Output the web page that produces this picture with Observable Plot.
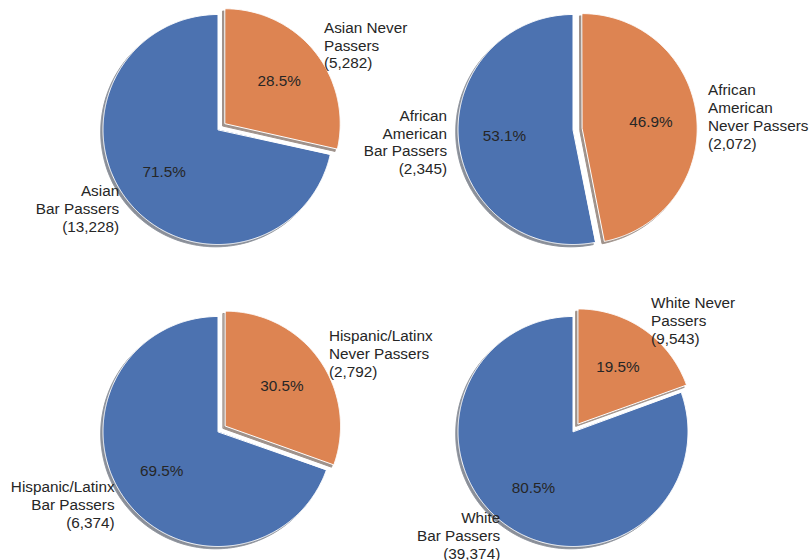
<!DOCTYPE html>
<html><head><meta charset="utf-8">
<script src="https://cdn.jsdelivr.net/npm/d3@7"></script>
<script src="https://cdn.jsdelivr.net/npm/@observablehq/plot@0.6"></script>
<style>html,body{margin:0;padding:0;background:#fff;}</style>
</head><body><div id="chart"></div>
<script>
const groups = ["Asian", "African American", "Hispanic/Latinx", "White"];
const barPassers = [13228, 2345, 6374, 39374];
const neverPassers = [5282, 2072, 2792, 9543];
const passerLabels = ["Asian\nBar Passers", "African\nAmerican\nBar Passers", "Hispanic/Latinx\nBar Passers", "White\nBar Passers"];
const neverLabels = ["Asian Never\nPassers", "African\nAmerican\nNever Passers", "Hispanic/Latinx\nNever Passers", "White Never\nPassers"];
const categories = ["Bar Passers", "Never Passers"];
const colors = ["#4C72B0", "#DD8452"];
const shadowColors = colors.map(c => { const r = d3.rgb(c); return d3.rgb(r.r * 0.3, r.g * 0.3, r.b * 0.3).formatHex(); });

// layout, in pie-radius units
const colStep = 3.087, rowStep = 2.626;
const explode = [0, 0.08];
const shadowOff = 0.02;

const wedges = [];
const pts = [];
groups.forEach((g, i) => {
  const cx = (i % 2) * colStep, cy = -Math.floor(i / 2) * rowStep;
  const vals = [barPassers[i], neverPassers[i]];
  const labels = [passerLabels[i], neverLabels[i]];
  const total = d3.sum(vals);
  let t = 90;
  vals.forEach((v, j) => {
    const frac = v / total;
    const t1 = t, t2 = t + 360 * frac;
    const mid = (t1 + t2) / 2 * Math.PI / 180;
    const ox = cx + explode[j] * Math.cos(mid), oy = cy + explode[j] * Math.sin(mid);
    const id = g + "|" + categories[j];
    const n = Math.max(2, Math.ceil((t2 - t1) / 0.5));
    pts.push({id, cat: categories[j], x: ox, y: oy});
    for (let k = 0; k <= n; k++) {
      const a = (t1 + (t2 - t1) * k / n) * Math.PI / 180;
      pts.push({id, cat: categories[j], x: ox + Math.cos(a), y: oy + Math.sin(a)});
    }
    wedges.push({
      id, cat: categories[j],
      pct: d3.format(".1f")(frac * 100) + "%",
      label: labels[j] + "\n(" + d3.format(",")(v) + ")",
      px: ox + 0.6 * Math.cos(mid), py: oy + 0.6 * Math.sin(mid),
      lx: ox + 1.1 * Math.cos(mid), ly: oy + 1.1 * Math.sin(mid),
      side: Math.cos(mid) > 0 ? "start" : "end"
    });
    t = t2;
  });
});

const R = 115;
const xDomain = [-217.5 / R, (809 - 217.5) / R];
const yDomain = [(129 - 560) / R, 129 / R];
const font = "'Liberation Sans', Arial, sans-serif";
const textColor = "#262626";
const fs = 15.3;

const chart = Plot.plot({
  width: 809, height: 560, margin: 0,
  x: {domain: xDomain, axis: null},
  y: {domain: yDomain, axis: null},
  color: {domain: categories, range: colors},
  style: {fontFamily: font, fontSize: fs + "px", color: textColor, background: "white", overflow: "visible"},
  marks: [
    Plot.line(pts, {filter: d => d.cat === categories[0], x: d => d.x - shadowOff, y: d => d.y - shadowOff, z: "id", curve: "linear-closed", fill: shadowColors[0], stroke: shadowColors[0], strokeWidth: 1, opacity: 0.5}),
    Plot.line(pts, {filter: d => d.cat === categories[1], x: d => d.x - shadowOff, y: d => d.y - shadowOff, z: "id", curve: "linear-closed", fill: shadowColors[1], stroke: shadowColors[1], strokeWidth: 1, opacity: 0.5}),
    Plot.line(pts, {x: "x", y: "y", z: "id", curve: "linear-closed", fill: "cat", stroke: "white", strokeWidth: 1}),
    Plot.text(wedges, {x: "px", y: "py", text: "pct", fill: textColor, fontSize: fs}),
    Plot.text(wedges, {filter: d => d.side === "start", x: "lx", y: "ly", text: "label", textAnchor: "start", lineAnchor: "middle", lineHeight: 1.17, fill: textColor, fontSize: fs}),
    Plot.text(wedges, {filter: d => d.side === "end", x: "lx", y: "ly", text: "label", textAnchor: "end", lineAnchor: "middle", lineHeight: 1.17, fill: textColor, fontSize: fs})
  ]
});
document.getElementById("chart").appendChild(chart);
</script>
</body></html>
